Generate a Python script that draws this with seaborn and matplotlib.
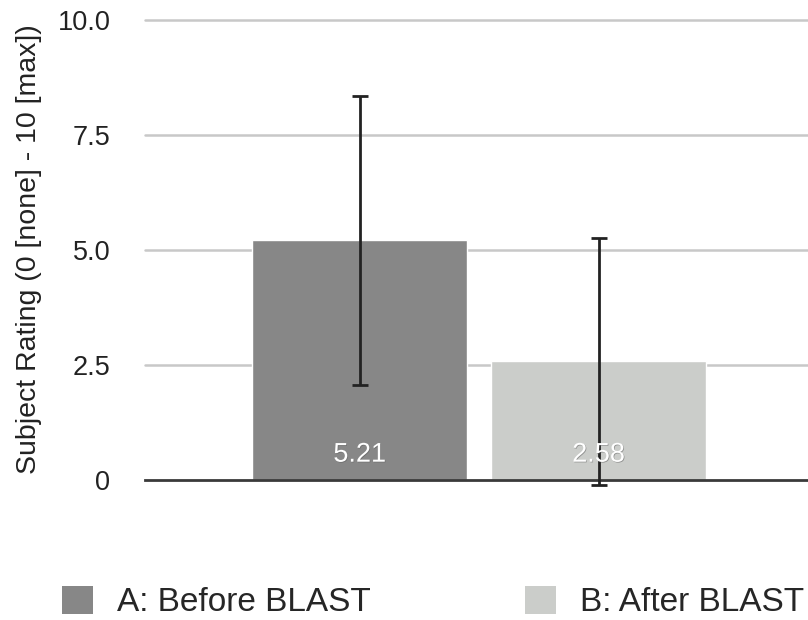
import matplotlib
matplotlib.use("Agg")
import matplotlib.pyplot as plt
import matplotlib.patheffects as pe
from matplotlib.patches import Patch
import pandas as pd
import seaborn as sns

# Données
conditions = ["A: Before BLAST", "B: After BLAST"]
ratings = [5.21, 2.58]
errors = [3.14, 2.68]
colors = ["#878787", "#cbcdca"]
yticks = [0, 2.5, 5.0, 7.5, 10.0]
ytick_labels = ["0", "2.5", "5.0", "7.5", "10.0"]

df = pd.DataFrame({"condition": conditions, "rating": ratings})

sns.set_style("white")
plt.rcParams["font.family"] = ["Liberation Sans", "DejaVu Sans"]

fig = plt.figure(figsize=(8.08, 6.2), dpi=100)
ax = fig.add_axes([145 / 808, 140 / 620, 663 / 808, 462.3 / 620])

sns.barplot(data=df, x="condition", y="rating", hue="condition",
            palette=colors, width=0.9, saturation=1, legend=False, ax=ax)

# Barres d'erreur
ax.errorbar(range(len(ratings)), ratings, yerr=errors, fmt="none",
            ecolor="#222222", elinewidth=2, capsize=6, capthick=2,
            clip_on=False, zorder=5)

# Valeurs dans les barres
for i, v in enumerate(ratings):
    ax.text(i, 0.55, f"{v:.2f}", ha="center", va="center", color="white",
            fontsize=19.5, zorder=6,
            path_effects=[pe.withSimplePatchShadow(offset=(0.5, -0.5), shadow_rgbFace="#555555", alpha=0.5)])

ax.set_xlim(-0.9, 1.877)
ax.set_ylim(0, 10.05)
ax.set_yticks(yticks)
ax.set_yticklabels(ytick_labels)
ax.tick_params(axis="y", length=0, pad=25, labelsize=19.5, labelcolor="#222222")
ax.set_xticks([])
ax.set_xlabel("")
ax.set_ylabel("Subject Rating (0 [none] - 10 [max])", fontsize=20.5, color="#222222")
ax.yaxis.set_label_coords(-0.156, 0.5)

for y in yticks[1:]:
    ax.axhline(y, color="#c8c8c8", linewidth=1.8, zorder=0, clip_on=False)

for s in ["top", "right", "left"]:
    ax.spines[s].set_visible(False)
ax.spines["bottom"].set_color("#3a3a3a")
ax.spines["bottom"].set_linewidth(2)
ax.spines["bottom"].set_zorder(4)

handles = [Patch(facecolor=c, edgecolor="none") for c in colors]
fig.legend(handles, conditions, loc="center left", bbox_to_anchor=(62 / 808, 1 - 602 / 620),
           ncol=2, frameon=False, fontsize=24, handlelength=0.93, handleheight=0.93,
           handletextpad=0.72, columnspacing=4.62, borderpad=0, borderaxespad=0)

fig.savefig("out.png", dpi=100)
plt.close(fig)
